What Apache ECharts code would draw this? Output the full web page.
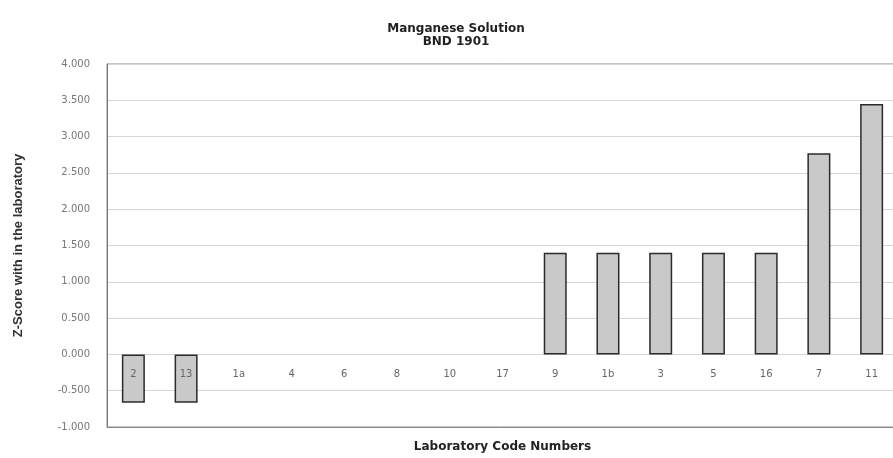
<!DOCTYPE html>
<html>
<head>
<meta charset="utf-8">
<script src="https://cdn.jsdelivr.net/npm/echarts@6/dist/echarts.min.js"></script>
<style>
  html, body { margin: 0; padding: 0; background: #fff; }
  #chart { width: 893px; height: 458px; }
</style>
</head>
<body>
<div id="chart"></div>
<script>
// laboratory codes and their z-scores
const labCodes = ['2', '13', '1a', '4', '6', '8', '10', '17', '9', '1b', '3', '5', '16', '7', '11'];
const zScores = [-0.667, -0.667, 0, 0, 0, 0, 0, 0, 1.40, 1.40, 1.40, 1.40, 1.40, 2.77, 3.45];

const yTicks = { min: -1, max: 4, step: 0.5 };

const chart = echarts.init(document.getElementById('chart'));

chart.setOption({
  animation: false,
  title: {
    text: 'Manganese Solution\nBND 1901',
    left: 451,
    top: 17,
    textAlign: 'center',
    textStyle: {
      fontFamily: 'DejaVu Sans',
      fontSize: 12,
      fontWeight: 'bold',
      color: '#222',
      lineHeight: 13
    }
  },
  grid: {
    left: 107,
    right: -5,
    top: 64,
    bottom: 31,
    outerBoundsMode: 'none',
    containLabel: false,
    show: true,
    borderColor: '#8a8a8a',
    borderWidth: 1
  },
  xAxis: {
    type: 'category',
    data: labCodes,
    position: 'bottom',
    z: 5,
    name: 'Laboratory Code Numbers',
    nameLocation: 'middle',
    nameGap: 14,
    nameTextStyle: {
      fontFamily: 'DejaVu Sans',
      fontSize: 12,
      fontWeight: 'bold',
      color: '#222',
      verticalAlign: 'top'
    },
    axisLine: { onZero: false, lineStyle: { color: '#8a8a8a' } },
    axisTick: { show: false },
    // labels sit just under the zero line, as in the original
    axisLabel: {
      margin: -58,
      fontFamily: 'DejaVu Sans',
      fontSize: 10,
      color: '#666'
    }
  },
  yAxis: {
    type: 'value',
    min: yTicks.min,
    max: yTicks.max,
    interval: yTicks.step,
    name: 'Z-Score with in the laboratory',
    nameLocation: 'middle',
    nameGap: 82,
    nameTextStyle: {
      fontFamily: 'Liberation Sans',
      fontSize: 13,
      fontWeight: 'bold',
      color: '#333'
    },
    axisLine: { show: true, lineStyle: { color: '#777' } },
    axisTick: { show: false },
    axisLabel: {
      margin: 17,
      fontFamily: 'DejaVu Sans',
      fontSize: 10,
      color: '#777',
      formatter: v => v.toFixed(3)
    },
    splitLine: { lineStyle: { color: '#d6d6d6' } }
  },
  series: [{
    type: 'bar',
    // zero scores draw no bar
    data: zScores.map(v => (v === 0 ? null : v)),
    barWidth: 23,
    itemStyle: {
      color: '#c9c9c9',
      borderColor: '#2b2b2b',
      borderWidth: 1.5
    }
  }]
});
</script>
</body>
</html>
